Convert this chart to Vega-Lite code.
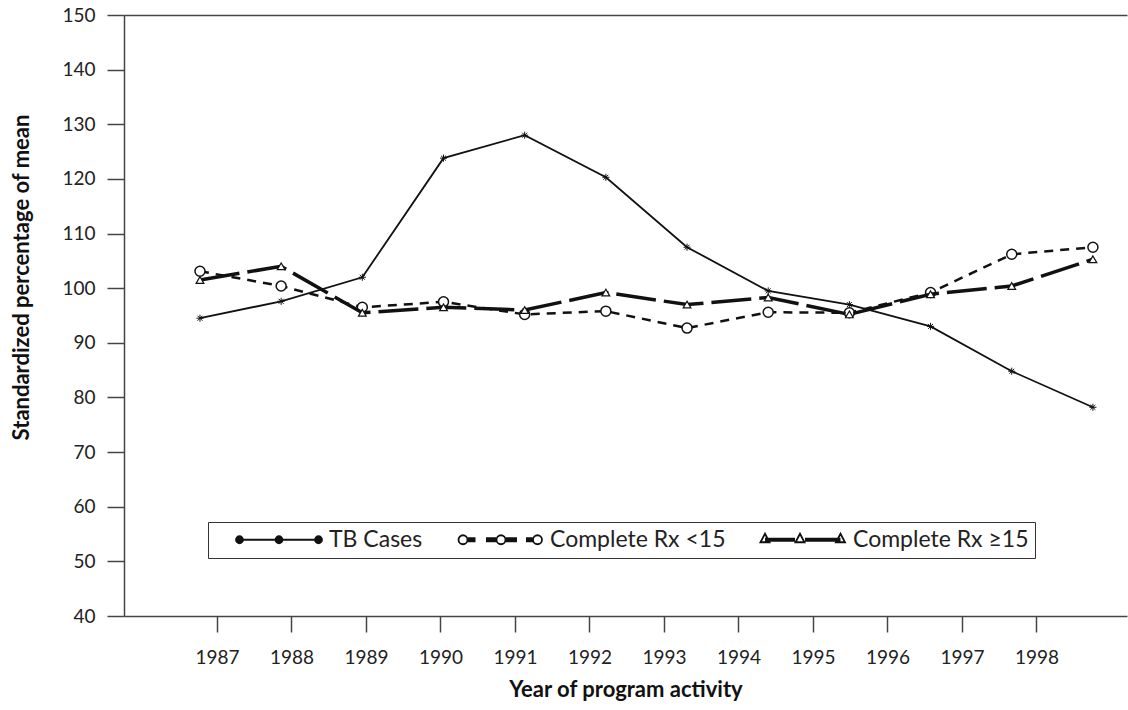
{
  "$schema": "https://vega.github.io/schema/vega-lite/v6.json",
  "width": 1003,
  "height": 601,
  "autosize": "none",
  "padding": {"left": 124, "top": 15, "right": 1, "bottom": 94},
  "background": "white",
  "config": {"view": {"stroke": null}, "font": "Lato"},
  "datasets": {
    "d": [
      {"year": 1987, "series": "TB Cases", "value": 94.5},
      {"year": 1988, "series": "TB Cases", "value": 97.6},
      {"year": 1989, "series": "TB Cases", "value": 102.0},
      {"year": 1990, "series": "TB Cases", "value": 123.8},
      {"year": 1991, "series": "TB Cases", "value": 128.0},
      {"year": 1992, "series": "TB Cases", "value": 120.3},
      {"year": 1993, "series": "TB Cases", "value": 107.5},
      {"year": 1994, "series": "TB Cases", "value": 99.5},
      {"year": 1995, "series": "TB Cases", "value": 97.0},
      {"year": 1996, "series": "TB Cases", "value": 93.0},
      {"year": 1997, "series": "TB Cases", "value": 84.8},
      {"year": 1998, "series": "TB Cases", "value": 78.2},
      {"year": 1987, "series": "Complete Rx <15", "value": 103.1},
      {"year": 1988, "series": "Complete Rx <15", "value": 100.4},
      {"year": 1989, "series": "Complete Rx <15", "value": 96.5},
      {"year": 1990, "series": "Complete Rx <15", "value": 97.5},
      {"year": 1991, "series": "Complete Rx <15", "value": 95.2},
      {"year": 1992, "series": "Complete Rx <15", "value": 95.8},
      {"year": 1993, "series": "Complete Rx <15", "value": 92.7},
      {"year": 1994, "series": "Complete Rx <15", "value": 95.6},
      {"year": 1995, "series": "Complete Rx <15", "value": 95.5},
      {"year": 1996, "series": "Complete Rx <15", "value": 99.2},
      {"year": 1997, "series": "Complete Rx <15", "value": 106.2},
      {"year": 1998, "series": "Complete Rx <15", "value": 107.5},
      {"year": 1987, "series": "Complete Rx ≥15", "value": 101.5},
      {"year": 1988, "series": "Complete Rx ≥15", "value": 104.0},
      {"year": 1989, "series": "Complete Rx ≥15", "value": 95.5},
      {"year": 1990, "series": "Complete Rx ≥15", "value": 96.5},
      {"year": 1991, "series": "Complete Rx ≥15", "value": 96.0},
      {"year": 1992, "series": "Complete Rx ≥15", "value": 99.2},
      {"year": 1993, "series": "Complete Rx ≥15", "value": 97.0},
      {"year": 1994, "series": "Complete Rx ≥15", "value": 98.3},
      {"year": 1995, "series": "Complete Rx ≥15", "value": 95.2},
      {"year": 1996, "series": "Complete Rx ≥15", "value": 98.9},
      {"year": 1997, "series": "Complete Rx ≥15", "value": 100.4},
      {"year": 1998, "series": "Complete Rx ≥15", "value": 105.3}
    ]
  },
  "data": {"name": "d"},
  "encoding": {
    "y": {
      "field": "value", "type": "quantitative",
      "scale": {"domain": [40, 150], "nice": false, "zero": false},
      "axis": {
        "title": "Standardized percentage of mean",
        "values": [40, 50, 60, 70, 80, 90, 100, 110, 120, 130, 140, 150],
        "grid": false,
        "domainColor": "#444", "domainWidth": 1.5,
        "tickColor": "#444", "tickWidth": 1.5, "tickSize": 17,
        "labelFont": "Lato", "labelFontSize": 19, "labelColor": "#222", "labelPadding": 12,
        "titleFont": "Lato", "titleFontSize": 22, "titleFontWeight": "bold", "titleColor": "#111", "titlePadding": 28,
        "titleY": 262
      }
    }
  },
  "layer": [
    {
      "mark": {"type": "point", "opacity": 0},
      "transform": [{"filter": "datum.series === 'TB Cases'"}],
      "encoding": {
        "x": {
          "field": "year", "type": "quantitative",
          "scale": {"domain": [1985.752, 1999.215], "nice": false, "zero": false},
          "axis": {
            "orient": "bottom", "title": "Year of program activity",
            "values": [1987, 1988, 1989, 1990, 1991, 1992, 1993, 1994, 1995, 1996, 1997, 1998],
            "format": "d", "grid": false,
            "domainColor": "#444", "domainWidth": 1.5,
            "tickColor": "#444", "tickWidth": 1.5, "tickSize": 16,
            "labelFont": "Lato", "labelFontSize": 19, "labelColor": "#222", "labelPadding": 16,
            "titleFont": "Lato", "titleFontSize": 22, "titleFontWeight": "bold", "titleColor": "#111", "titlePadding": 12
          }
        }
      }
    },
    {
      "mark": {"type": "line", "color": "#111", "strokeWidth": 1.8},
      "transform": [{"filter": "datum.series === 'TB Cases'"}],
      "encoding": {
        "x": {
          "field": "year", "type": "quantitative",
          "scale": {"domain": [1986.064, 1998.42], "nice": false, "zero": false},
          "axis": {"orient": "top", "title": null, "labels": false, "ticks": false, "grid": false, "domainColor": "#444", "domainWidth": 1.5}
        }
      }
    },
    {
      "mark": {"type": "point", "shape": "M-1,0L1,0M0,-1L0,1M-0.7,-0.7L0.7,0.7M-0.7,0.7L0.7,-0.7", "size": 50, "stroke": "#111", "strokeWidth": 1, "filled": false, "opacity": 1},
      "transform": [{"filter": "datum.series === 'TB Cases'"}],
      "encoding": {
        "x": {"field": "year", "type": "quantitative", "scale": {"domain": [1986.064, 1998.42], "nice": false, "zero": false}, "axis": null}
      }
    },
    {
      "mark": {"type": "line", "color": "#111", "strokeWidth": 2.5, "strokeDash": [9, 7]},
      "transform": [{"filter": "datum.series === 'Complete Rx <15'"}],
      "encoding": {
        "x": {"field": "year", "type": "quantitative", "scale": {"domain": [1986.064, 1998.42], "nice": false, "zero": false}, "axis": null}
      }
    },
    {
      "mark": {"type": "point", "shape": "circle", "size": 100, "stroke": "#111", "strokeWidth": 1.5, "fill": "white", "filled": true, "opacity": 1},
      "transform": [{"filter": "datum.series === 'Complete Rx <15'"}],
      "encoding": {
        "x": {"field": "year", "type": "quantitative", "scale": {"domain": [1986.064, 1998.42], "nice": false, "zero": false}, "axis": null}
      }
    },
    {
      "mark": {"type": "line", "color": "#111", "strokeWidth": 3.5, "strokeDash": [40, 8]},
      "transform": [{"filter": "datum.series === 'Complete Rx ≥15'"}],
      "encoding": {
        "x": {"field": "year", "type": "quantitative", "scale": {"domain": [1986.064, 1998.42], "nice": false, "zero": false}, "axis": null}
      }
    },
    {
      "mark": {"type": "point", "shape": "triangle-up", "size": 60, "stroke": "#111", "strokeWidth": 1.2, "fill": "white", "filled": true, "opacity": 1},
      "transform": [{"filter": "datum.series === 'Complete Rx ≥15'"}],
      "encoding": {
        "x": {"field": "year", "type": "quantitative", "scale": {"domain": [1986.064, 1998.42], "nice": false, "zero": false}, "axis": null}
      }
    },
    {
      "mark": {"type": "point", "filled": true, "strokeWidth": 1.8, "opacity": 1},
      "transform": [{"filter": "false"}],
      "encoding": {
        "x": {"field": "year", "type": "quantitative", "scale": {"domain": [1986.064, 1998.42], "nice": false, "zero": false}, "axis": null},
        "shape": {
          "field": "series", "type": "nominal",
          "scale": {
            "domain": ["TB Cases", "Complete Rx <15", "Complete Rx ≥15"],
            "range": [
              "M2.8,0L18.6,0M2.1,0a0.7,0.7 0 1,0 1.4,0a0.7,0.7 0 1,0 -1.4,0M10,0a0.7,0.7 0 1,0 1.4,0a0.7,0.7 0 1,0 -1.4,0M17.9,0a0.7,0.7 0 1,0 1.4,0a0.7,0.7 0 1,0 -1.4,0",
              "M2.4,0a0.9,0.9 0 1,0 1.8,0a0.9,0.9 0 1,0 -1.8,0M4.3,-0.3L5.8,-0.3M4.3,0L5.8,0M4.3,0.3L5.8,0.3M7.9,-0.3L9.9,-0.3M7.9,0L9.9,0M7.9,0.3L9.9,0.3M10,0a0.9,0.9 0 1,0 1.8,0a0.9,0.9 0 1,0 -1.8,0M11.9,-0.3L14.1,-0.3M11.9,0L14.1,0M11.9,0.3L14.1,0.3M15.9,-0.3L17.2,-0.3M15.9,0L17.2,0M15.9,0.3L17.2,0.3M17.3,0a0.9,0.9 0 1,0 1.8,0a0.9,0.9 0 1,0 -1.8,0",
              "M3.1,-0.2L9.1,-0.2M3.1,0.2L9.1,0.2M11.1,-0.2L18.2,-0.2M11.1,0.2L18.2,0.2M2.2,0.5L3.1,-1.2L4,0.5ZM9.2,0.5L10.1,-1.2L11,0.5ZM17.3,0.5L18.2,-1.2L19.1,0.5Z"
            ]
          },
          "legend": {
            "orient": "none", "legendX": 84, "legendY": 507,
            "direction": "horizontal", "title": null,
            "strokeColor": "#333", "fillColor": "white", "padding": 6,
            "symbolSize": 100, "symbolStrokeColor": "#111", "symbolStrokeWidth": 1.8, "symbolOpacity": 1,
            "labelFont": "Lato", "labelFontSize": 23, "labelColor": "#222", "labelOffset": 92,
            "columnPadding": 12, "labelLimit": 300
          }
        },
        "fill": {
          "field": "series", "type": "nominal",
          "scale": {"domain": ["TB Cases", "Complete Rx <15", "Complete Rx ≥15"], "range": ["#111", "white", "white"]},
          "legend": null
        },
        "stroke": {
          "field": "series", "type": "nominal",
          "scale": {"domain": ["TB Cases", "Complete Rx <15", "Complete Rx ≥15"], "range": ["#111", "#111", "#111"]},
          "legend": null
        }
      }
    }
  ],
  "resolve": {"scale": {"x": "independent"}, "axis": {"x": "independent"}}
}
